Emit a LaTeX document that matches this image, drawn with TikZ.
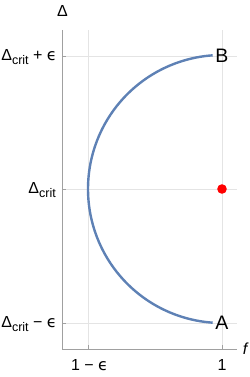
\documentclass[tikz,border=0pt]{standalone}
\usepackage{fontspec}
\setmainfont{Liberation Sans}
\newfontfamily\djv{DejaVu Sans}
\definecolor{curveblue}{HTML}{5E81B5}
\definecolor{gridgray}{HTML}{E4E4E4}
\definecolor{axisgray}{HTML}{A0A0A0}
\newcommand{\crt}{\raisebox{-0.3em}{\fontsize{12.5}{12.5}\selectfont crit}}
\newcommand{\eps}{{\djv ϵ}}
\begin{document}
\begin{tikzpicture}[x=1pt,y=-1pt,
  grid/.style={draw=gridgray,line width=0.7pt},
  axis/.style={draw=axisgray,line width=0.9pt},
  ticklab/.style={font=\fontsize{16}{16}\selectfont,inner sep=0pt},
  ptlab/.style={font=\fontsize{19.5}{19.5}\selectfont,inner sep=0pt},
  curve/.style={draw=curveblue,line width=2.4pt}]
\useasboundingbox (0,0) rectangle (249,377);
% gridlines
\draw[grid] (88,30) -- (88,349);
\draw[grid] (222,30) -- (222,349);
\draw[grid] (62,56) -- (237,56);
\draw[grid] (62,189) -- (237,189);
\draw[grid] (62,323) -- (237,323);
% axes
\coordinate (o) at (62,349);
\coordinate (ytop) at (62,30);
\coordinate (xend) at (237,349);
\draw[axis] (ytop) -- (o) -- (xend);
% ticks
\foreach \yy in {56,189,323} \draw[axis] (62,\yy) -- (66,\yy);
\foreach \xx in {88,222} \draw[axis] (\xx,349) -- (\xx,345);
% curve
\draw[curve] plot[domain=94:266,samples=120] ({222+134*cos(\x)},{189-134*sin(\x)});
% red point
\fill[red] (222,189) circle[radius=4.8];
% labels
\node[ptlab] (B) at (222,56) {B};
\node[ptlab] (A) at (222,323) {A};
\node[ticklab] (dl) at (62.5,10.5) {Δ};
\node[ticklab] (fl) at (245,349) {\itshape f};
\node[ticklab,anchor=east] (t1) at (57,57) {Δ\crt\ + \eps};
\node[ticklab,anchor=east] (t2) at (56,190) {Δ\crt};
\node[ticklab,anchor=east] (t3) at (57,324) {Δ\crt\ − \eps};
\node[ticklab] (x1) at (89.5,365) {1 − \eps};
\node[ticklab] (x2) at (222,365) {1};
\end{tikzpicture}
\end{document}
